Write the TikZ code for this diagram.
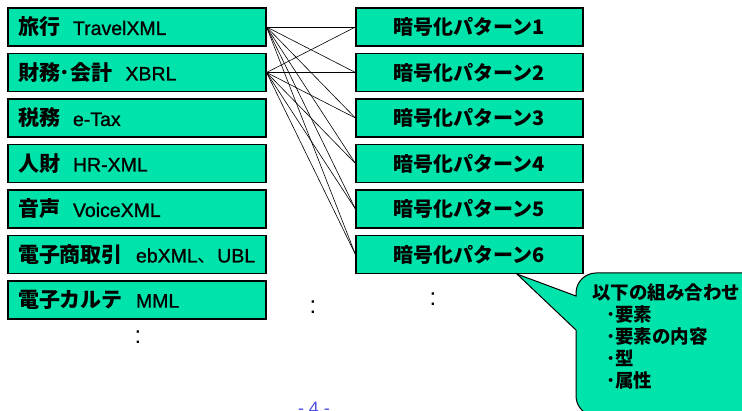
\documentclass[tikz,border=0pt]{standalone}
\usepackage{fontspec}
\usetikzlibrary{calc}
\setmainfont{Liberation Sans}
\newfontfamily\lat{Liberation Sans}[FakeBold=1]
\newfontfamily\jp{Noto Sans CJK JP}
\definecolor{mint}{RGB}{0,227,171}
\definecolor{pageblue}{RGB}{80,80,230}
\newcommand{\jb}[1]{{\jp\bfseries\fontsize{21}{22}\selectfont #1}}
\begin{document}
\begin{tikzpicture}[x=1pt,y=-1pt,
  leftbox/.style={draw=black, line width=1.1pt, fill=mint, inner xsep=10pt, inner ysep=0pt,
    text width=238pt, align=left, minimum height=38pt, font=\lat\fontsize{19.5}{22}\selectfont},
  rightbox/.style={draw=black, line width=1.1pt, fill=mint, inner sep=0pt,
    minimum width=227pt, minimum height=38pt, font=\fontsize{20}{22}\selectfont},
  link/.style={draw=black, line width=0.6pt},
  dotsym/.style={font=\fontsize{24}{24}\selectfont, inner sep=0pt},
]
\useasboundingbox (0,0) rectangle (742,411);

% left boxes
\node[leftbox] (L1) at (137,27)    {\jb{旅行}\hspace{13pt}TravelXML};
\node[leftbox] (L2) at (137,72.5)  {\jb{財務･会計}\hspace{13pt}XBRL};
\node[leftbox] (L3) at (137,118)   {\jb{税務}\hspace{13pt}e-Tax};
\node[leftbox] (L4) at (137,163.5) {\jb{人財}\hspace{13pt}HR-XML};
\node[leftbox] (L5) at (137,209)   {\jb{音声}\hspace{13pt}VoiceXML};
\node[leftbox] (L6) at (137,254.5) {\jb{電子商取引}\hspace{13pt}ebXML{\jp 、}UBL};
\node[leftbox] (L7) at (137,300)   {\jb{電子カルテ}\hspace{13pt}MML};

% right boxes
\node[rightbox] (R1) at (469.5,27)    {\jb{\fontsize{20}{22}\selectfont 暗号化パターン1}};
\node[rightbox] (R2) at (469.5,72.5)  {\jb{\fontsize{20}{22}\selectfont 暗号化パターン2}};
\node[rightbox] (R3) at (469.5,118)   {\jb{\fontsize{20}{22}\selectfont 暗号化パターン3}};
\node[rightbox] (R4) at (469.5,163.5) {\jb{\fontsize{20}{22}\selectfont 暗号化パターン4}};
\node[rightbox] (R5) at (469.5,209)   {\jb{\fontsize{20}{22}\selectfont 暗号化パターン5}};
\node[rightbox] (R6) at (469.5,254.5) {\jb{\fontsize{20}{22}\selectfont 暗号化パターン6}};

% connectors
\foreach \r in {1,...,6}{
  \draw[link] (L1.east) -- (R\r.west);
  \draw[link] (L2.east) -- (R\r.west);
}

% continuation marks
\node[dotsym] (d1) at (138,337) {:};
\node[dotsym] (d2) at (313,307) {:};
\node[dotsym] (d3) at (433,299) {:};

% callout
\coordinate (tip) at ($(R6.south west)!0.708!(R6.south east)$);
\draw[line width=1pt, fill=mint]
  (tip) -- (576,296) -- (576,293) .. controls (576,282) and (585,273) .. (596,273)
  -- (790,273) -- (790,416) -- (596,416) .. controls (585,416) and (576,407) .. (576,396)
  -- (576,330) -- cycle;
\node[anchor=north west, inner sep=0pt, align=left, font=\jp\bfseries\fontsize{18.5}{22}\selectfont] (note) at (592,284)
  {以下の組み合わせ\\
   \hspace{14pt}･要素\\
   \hspace{14pt}･要素の内容\\
   \hspace{14pt}･型\\
   \hspace{14pt}･属性};

% page number
\node[anchor=base, text=pageblue, font=\fontsize{18}{18}\selectfont, inner sep=0pt] (pg) at (314,415) {- 4 -};
\end{tikzpicture}
\end{document}
